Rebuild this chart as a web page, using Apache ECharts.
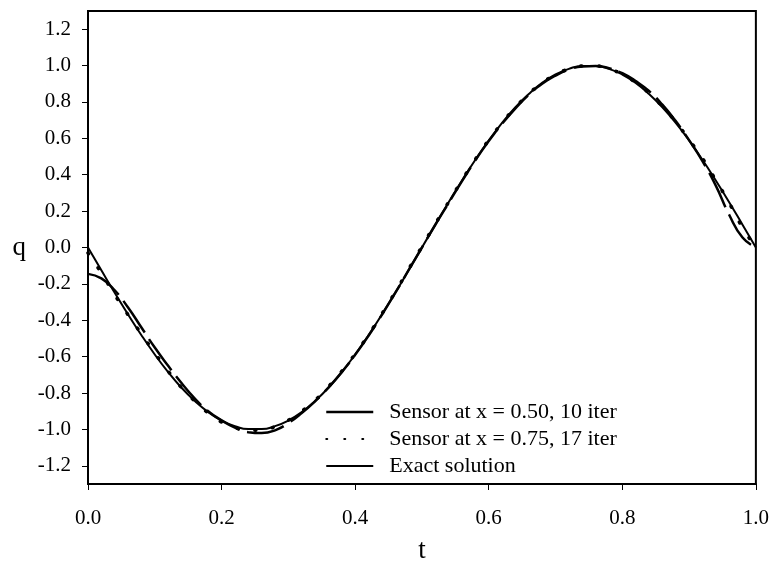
<!DOCTYPE html>
<html>
<head>
<meta charset="utf-8">
<script src="https://cdn.jsdelivr.net/npm/echarts@6/dist/echarts.min.js"></script>
<style>html,body{margin:0;padding:0;background:#fff}#c{width:772px;height:571px}</style>
</head>
<body>
<div id="c"></div>
<script>
const tValues = [0,0.02,0.04,0.06,0.08,0.10,0.12,0.14,0.16,0.18,0.20,0.22,0.24,0.26,0.28,0.30,0.32,0.34,0.36,0.38,0.40,0.42,0.44,0.46,0.48,0.50,0.52,0.54,0.56,0.58,0.60,0.62,0.64,0.66,0.68,0.70,0.72,0.74,0.76,0.78,0.80,0.82,0.84,0.86,0.88,0.90,0.92,0.94,0.96,0.98,1.00];
const sensor050 = [-0.145,-0.17,-0.235,-0.33,-0.44,-0.55,-0.65,-0.745,-0.83,-0.9,-0.95,-0.99,-1.015,-1.02,-1.005,-0.965,-0.91,-0.845,-0.77,-0.685,-0.59,-0.485,-0.37,-0.25,-0.125,0,0.125,0.245,0.365,0.48,0.585,0.68,0.765,0.84,0.9,0.945,0.978,0.995,0.998,0.985,0.958,0.915,0.86,0.785,0.695,0.59,0.475,0.34,0.18,0.055,0];
const sensor075 = [-0.03,-0.14,-0.26,-0.37,-0.475,-0.58,-0.68,-0.77,-0.845,-0.91,-0.96,-0.99,-1.005,-1.005,-0.985,-0.95,-0.9,-0.84,-0.765,-0.68,-0.585,-0.48,-0.365,-0.245,-0.12,0.005,0.13,0.25,0.37,0.485,0.59,0.685,0.77,0.845,0.905,0.95,0.982,0.998,0.998,0.982,0.952,0.907,0.848,0.775,0.69,0.592,0.49,0.37,0.245,0.11,0];
const exactSolution = [0,-0.125,-0.249,-0.368,-0.482,-0.588,-0.685,-0.771,-0.844,-0.905,-0.951,-0.982,-0.998,-0.998,-0.982,-0.951,-0.905,-0.844,-0.771,-0.685,-0.588,-0.482,-0.368,-0.249,-0.125,0,0.125,0.249,0.368,0.482,0.588,0.685,0.771,0.844,0.905,0.951,0.982,0.998,0.998,0.982,0.951,0.905,0.844,0.771,0.685,0.588,0.482,0.368,0.249,0.125,0];
const yTicks = [-1.2,-1.0,-0.8,-0.6,-0.4,-0.2,0.0,0.2,0.4,0.6,0.8,1.0,1.2];
const seriesNames = ['Sensor at x = 0.50, 10 iter','Sensor at x = 0.75, 17 iter','Exact solution'];

const pair = arr => tValues.map((t,i)=>[t,arr[i]]);
const font = '"Liberation Serif","Times New Roman",serif';
const chart = echarts.init(document.getElementById('c'), null, {renderer:'canvas'});
chart.setOption({
  animation:false,
  backgroundColor:'#fff',
  grid:{left:88,right:15,top:11,bottom:87,show:true,borderColor:'#000',borderWidth:2,backgroundColor:'transparent'},
  legend:{
    left:325, top:401, orient:'vertical', itemWidth:47, itemHeight:14, itemGap:5, padding:0,
    itemStyle:{opacity:0},
    textStyle:{fontFamily:font,fontSize:22,color:'#000',padding:[0,0,0,11]},
    data:[
      {name:seriesNames[0],lineStyle:{type:'solid',width:2.5}},
      {name:seriesNames[1]},
      {name:seriesNames[2]}
    ]
  },
  xAxis:{
    type:'value', min:0, max:1, interval:0.2,
    name:'t', nameLocation:'middle', nameGap:53,
    nameTextStyle:{fontFamily:font,fontSize:27,color:'#000'},
    axisLine:{show:true,onZero:false,lineStyle:{color:'#000',width:2}},
    axisTick:{show:true,inside:false,length:6,lineStyle:{color:'#000',width:1}},
    axisLabel:{fontFamily:font,fontSize:21,color:'#000',margin:24,formatter:v=>v.toFixed(1)},
    splitLine:{show:false}
  },
  yAxis:{
    type:'value', min:-1.3, max:1.3,
    name:'q', nameLocation:'middle', nameGap:62, nameRotate:0,
    nameTextStyle:{fontFamily:font,fontSize:27,color:'#000'},
    axisLine:{show:true,onZero:false,lineStyle:{color:'#000',width:2}},
    axisTick:{show:true,inside:false,length:6,lineStyle:{color:'#000',width:1},customValues:yTicks},
    axisLabel:{fontFamily:font,fontSize:21,color:'#000',margin:17,customValues:yTicks,formatter:v=>v.toFixed(1)},
    splitLine:{show:false}
  },
  series:[
    {name:seriesNames[0],type:'line',data:pair(sensor050),smooth:true,symbol:'none',showSymbol:false,
     lineStyle:{color:'#000',width:2.5,type:[38,8]},itemStyle:{color:'#000'}},
    {name:seriesNames[1],type:'line',data:pair(sensor075),smooth:true,symbol:'none',showSymbol:false,
     lineStyle:{color:'#000',width:3.5,type:[1,17],cap:'round'},itemStyle:{color:'#000'}},
    {name:seriesNames[2],type:'line',data:pair(exactSolution),smooth:true,symbol:'none',showSymbol:false,
     lineStyle:{color:'#000',width:2},itemStyle:{color:'#000'}}
  ]
});
</script>
</body>
</html>
